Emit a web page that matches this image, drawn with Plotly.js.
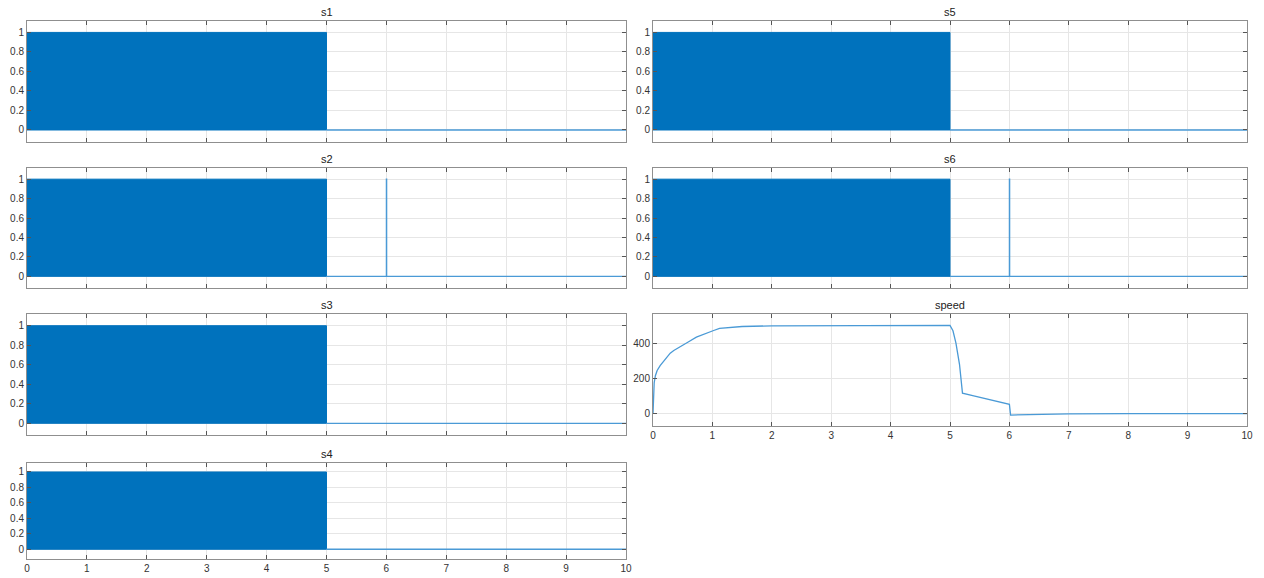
<!DOCTYPE html>
<html>
<head>
<meta charset="utf-8">
<script src="https://cdn.plot.ly/plotly-3.0.1.min.js"></script>
<style>html,body{margin:0;padding:0;background:#fff;}#chart{width:1264px;height:578px;}</style>
</head>
<body>
<div id="chart"></div>
<script>
// ---- data ----
const seriesNames = ['s1', 's2', 's3', 's4', 's5', 's6'];
const xTicks = [0, 1, 2, 3, 4, 5, 6, 7, 8, 9, 10];
const sTicks = [0, 0.2, 0.4, 0.6, 0.8, 1];
const speedTicks = [0, 200, 400];
// dense PWM switching between 0 and 1 for t in [0,5] (drawn as its envelope)
const bandT = [0, 0, 5, 5, 0];
const bandY = [0, 1, 1, 0, 0];
// after switching stops: stays at 0
const offT = [5, 10];
const offY = [0, 0];
// s2 / s6: single narrow pulse at t = 6
const spikeT = [5, 6.0, 6.0, 6.004, 6.004, 10];
const spikeY = [0, 0, 1, 1, 0, 0];
const hasSpike = [false, true, false, false, false, true];
// speed trace
const speedT = [0, 0.01, 0.02, 0.04, 0.07, 0.12, 0.17, 0.23, 0.29, 0.35, 0.45, 0.6, 0.73, 0.88, 1.01, 1.12, 1.3, 1.5, 2.0, 2.5, 3.0, 4.0, 4.98, 5.0, 5.05, 5.1, 5.16, 5.21, 5.4, 5.6, 5.8, 6.0, 6.02, 6.2, 6.5, 7.0, 8.0, 10.0];
const speedV = [0, 120, 175, 215, 245, 272, 292, 318, 343, 358, 380, 408, 434, 455, 470, 483, 490, 494, 498, 499, 500, 500, 500, 500, 470, 400, 280, 116, 101, 86, 70, 53, -8, -6, -3, -1, 0, 0];

const fontFam = 'Liberation Sans, Arial, Helvetica, sans-serif';
const W = 1264, H = 578;
const colX = [[27 / W, 626 / W], [653 / W, 1247 / W]];
const rowY = [
  [1 - 141.7 / H, 1 - 20.7 / H],
  [1 - 288 / H, 1 - 167.5 / H],
  [1 - 435 / H, 1 - 314 / H],
  [1 - 559.3 / H, 1 - 462.7 / H]
];
const speedDom = [1 - 426 / H, 1 - 314 / H];

const blue = '#0072BD';
const lineBlue = '#4a9ad6';

function xAxis(dom, anchor, labels) {
  return {
    domain: dom, anchor: anchor, range: [0, 10], tickvals: xTicks, ticktext: xTicks.map(String),
    showticklabels: labels, ticks: 'inside', ticklen: 4, tickcolor: '#555', tickwidth: 1,
    mirror: 'ticks', showline: true, linecolor: '#8f8f8f', linewidth: 1,
    showgrid: true, gridcolor: '#e6e6e6', gridwidth: 1, zeroline: false,
    tickfont: { size: 10, color: '#333', family: fontFam }, fixedrange: true
  };
}
function yAxis(dom, anchor, range, ticks) {
  return {
    domain: dom, anchor: anchor, range: range, tickvals: ticks, ticktext: ticks.map(String),
    ticks: 'inside', ticklen: 4, tickcolor: '#555', tickwidth: 1,
    mirror: 'ticks', showline: true, linecolor: '#8f8f8f', linewidth: 1,
    showgrid: true, gridcolor: '#e6e6e6', gridwidth: 1, zeroline: false,
    tickfont: { size: 10, color: '#333', family: fontFam }, fixedrange: true
  };
}

const traces = [];
const layout = {
  width: W, height: H, margin: { l: 0, r: 0, t: 0, b: 0 },
  paper_bgcolor: '#fff', plot_bgcolor: '#fff', showlegend: false, hovermode: false,
  annotations: []
};

// positions: s1..s4 left column rows 0..3, s5,s6 right column rows 0..1
const place = [[0, 0], [0, 1], [0, 2], [0, 3], [1, 0], [1, 1]];
seriesNames.forEach((name, i) => {
  const n = i + 1;
  const [c, r] = place[i];
  const xa = 'x' + n, ya = 'y' + n;
  const xk = n === 1 ? 'xaxis' : 'xaxis' + n;
  const yk = n === 1 ? 'yaxis' : 'yaxis' + n;
  layout[xk] = xAxis(colX[c], ya, name === 's4');
  layout[yk] = yAxis(rowY[r], xa, r === 3 ? [-0.13, 1.12] : [-0.12, 1.12], sTicks);
  traces.push({
    x: bandT, y: bandY, xaxis: xa, yaxis: ya, type: 'scatter', mode: 'lines',
    fill: 'toself', fillcolor: blue, line: { color: blue, width: 1 }
  });
  traces.push({
    x: hasSpike[i] ? spikeT : offT, y: hasSpike[i] ? spikeY : offY,
    xaxis: xa, yaxis: ya, type: 'scatter', mode: 'lines',
    line: { color: lineBlue, width: 1.3 }
  });
  layout.annotations.push({
    text: name, xref: 'paper', yref: 'paper', x: (colX[c][0] + colX[c][1]) / 2, y: rowY[r][1],
    xanchor: 'center', yanchor: 'bottom', yshift: 1, showarrow: false,
    font: { size: 11, color: '#222', family: fontFam }
  });
});

// speed
layout.xaxis7 = xAxis(colX[1], 'y7', true);
layout.yaxis7 = yAxis(speedDom, 'x7', [-70, 565], speedTicks);
traces.push({
  x: speedT, y: speedV, xaxis: 'x7', yaxis: 'y7', type: 'scatter', mode: 'lines',
  line: { color: lineBlue, width: 1.3 }
});
layout.annotations.push({
  text: 'speed', xref: 'paper', yref: 'paper', x: (colX[1][0] + colX[1][1]) / 2, y: speedDom[1],
  xanchor: 'center', yanchor: 'bottom', yshift: 1, showarrow: false,
  font: { size: 11, color: '#222', family: fontFam }
});

Plotly.newPlot('chart', traces, layout, { staticPlot: true, displayModeBar: false });
</script>
</body>
</html>
